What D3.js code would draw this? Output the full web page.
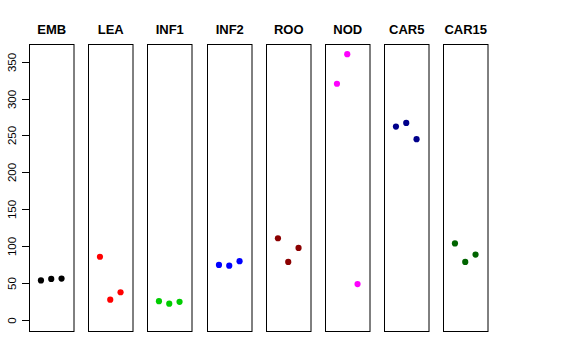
<!DOCTYPE html>
<html><head><meta charset="utf-8">
<script src="https://cdn.jsdelivr.net/npm/d3@7"></script>
<style>body{margin:0;background:#fff}svg{display:block}</style>
</head><body>
<svg id="c" width="576" height="360"></svg>
<script>
const categories = ["EMB","LEA","INF1","INF2","ROO","NOD","CAR5","CAR15"];
const colors = ["#000000","#FF0000","#00CD00","#0000FF","#8B0000","#FF00FF","#00008B","#006400"];
const values = [
  [54, 56, 56.5],
  [86, 28, 38],
  [26, 22.5, 25],
  [75, 74, 80],
  [111, 79, 98],
  [320, 360, 49],
  [262, 267, 245],
  [104, 79, 89]
];
const yTicks = [0,50,100,150,200,250,300,350];

(function(){
const svg = d3.select("#c");
const plotTop = 43.5, plotBottom = 331, panelW = 44.5, firstX = 29, step = 59.2;
const ymax = d3.max(values.flat());
const pad = ymax * 0.04;
const y = d3.scaleLinear().domain([0 - pad, ymax + pad]).range([plotBottom, plotTop]);
const xBand = d3.scaleLinear().domain([0, 1]).range([firstX, firstX + step]);

const ax = svg.append("g").attr("transform", `translate(${firstX},0)`);
ax.append("line").attr("x1",0.5).attr("x2",0.5)
  .attr("y1", Math.round(y(0))+0.5).attr("y2", Math.round(y(350))+0.5).attr("stroke","#000");
yTicks.forEach(t=>{
  const yy = Math.round(y(t))+0.5;
  ax.append("line").attr("x1",-7).attr("x2",0.5).attr("y1",yy).attr("y2",yy).attr("stroke","#000");
  ax.append("text").attr("transform",`translate(-13,${yy}) rotate(-90)`)
    .attr("text-anchor","middle").attr("font-family","Liberation Sans, Arial, sans-serif")
    .attr("font-size",11.5).attr("fill","#000").text(t);
});

categories.forEach((cat,i)=>{
  const x0 = Math.round(xBand(i));
  const g = svg.append("g").attr("transform",`translate(${x0},0)`);
  const x = d3.scaleLinear().domain([-0.16, 4.16]).range([0, panelW]);
  g.append("rect").attr("x",0.5).attr("y",Math.round(plotTop)+0.5)
    .attr("width",panelW).attr("height",Math.round(plotBottom)-Math.round(plotTop))
    .attr("fill","none").attr("stroke","#000").attr("stroke-width",1);
  g.append("text").attr("x",panelW/2+0.5).attr("y",34)
    .attr("text-anchor","middle").attr("font-family","Liberation Sans, Arial, sans-serif")
    .attr("font-weight","bold").attr("font-size",13).attr("fill","#000").text(cat);
  g.selectAll("circle").data(values[i]).join("circle")
    .attr("cx",(d,j)=>x(j+1)).attr("cy",d=>y(d)).attr("r",3.1).attr("fill",colors[i]);
});
})();
</script>
</body></html>
